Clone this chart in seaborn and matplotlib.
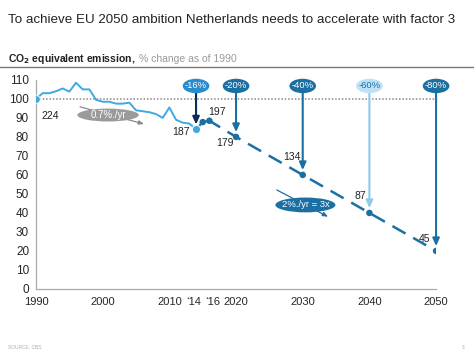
import matplotlib
matplotlib.use("Agg")
import matplotlib.pyplot as plt
import matplotlib.transforms as mtransforms
from matplotlib.patches import Ellipse
import pandas as pd
import seaborn as sns

# historic emission index (1990 = 100)
hist_years = list(range(1990, 2015))
hist_values = [100, 103, 103, 104, 105.5, 103.8, 108.5, 105, 105, 99.5,
               98.5, 98.5, 97.5, 97.5, 98, 94, 93.5, 93, 92, 90,
               95.5, 89, 87.5, 87, 84]
recent_years = [2014, 2015, 2016]
recent_values = [84, 87.8, 88.5]
target_years = [2016, 2020, 2030, 2040, 2050]
target_values = [88.5, 80, 60, 40, 20]

pill_years = [2014, 2020, 2030, 2040, 2050]
pill_labels = ["-16%", "-20%", "-40%", "-60%", "-80%"]
pill_end = [86.5, 82.5, 62.5, 42.5, 22.5]

mt_labels = ["224", "187", "197", "179", "134", "87", "45"]
mt_x = [1992.1, 2011.8, 2017.2, 2018.3, 2028.3, 2038.6, 2048.2]
mt_y = [91, 82.5, 93.3, 76.7, 69.3, 49.1, 26.2]

tick_years = [1990, 2000, 2010, 2014, 2016, 2020, 2030, 2040, 2050]
tick_labels = ["1990", "2000", "2010", "\u201814", "\u201816", "2020", "2030", "2040", "2050"]

sns.set_style("white")
plt.rcParams["font.family"] = ["Liberation Sans", "DejaVu Sans"]

light = "#3fa9e0"
mid = "#2a8ccc"
dark = "#1b6fa3"
pale = "#bfe1f5"
navy = "#0b2d5c"

fig = plt.figure(figsize=(4.74, 3.55), dpi=100)
ax = fig.add_axes([0.076, 0.186, 0.844, 0.589])

hist = pd.DataFrame({"year": hist_years, "value": hist_values})
recent = pd.DataFrame({"year": recent_years, "value": recent_values})
target = pd.DataFrame({"year": target_years, "value": target_values})

# reference line at 100
ax.plot([1990, 2050], [100, 100], color="#888888", linestyle=(0, (1, 1.2)), linewidth=1.1, zorder=1)

sns.lineplot(data=hist, x="year", y="value", ax=ax, color=light, linewidth=1.4, zorder=3)
sns.lineplot(data=recent, x="year", y="value", ax=ax, color=dark, linewidth=1.6, zorder=3)
sns.lineplot(data=target, x="year", y="value", ax=ax, color=dark, linewidth=1.8,
             linestyle=(1, (6, 3.5)), zorder=3)
sns.scatterplot(data=target.iloc[1:], x="year", y="value", ax=ax, color=dark, s=22,
                edgecolor="none", zorder=4)
sns.scatterplot(data=recent.iloc[1:], x="year", y="value", ax=ax, color=dark, s=22,
                edgecolor="none", zorder=4)
ax.scatter([1990], [100], color=light, s=30, edgecolor="white", linewidth=0.6, zorder=4)
ax.scatter([2014], [84], color=light, s=36, edgecolor="white", linewidth=0.8, zorder=5)

# pills with arrows
pill_face = [mid, dark, dark, pale, dark]
pill_text = ["white", "white", "white", dark, "white"]
arrow_col = [navy, dark, dark, "#8ccbec", dark]
for yr, lab, end, fc, tc, ac in zip(pill_years, pill_labels, pill_end, pill_face, pill_text, arrow_col):
    ax.add_patch(Ellipse((yr, 106.8), 4.0, 7.6, facecolor=fc, edgecolor="none",
                         clip_on=False, zorder=6))
    ax.text(yr, 106.8, lab, ha="center", va="center", color=tc, fontsize=6.8, zorder=7)
    ax.annotate("", xy=(yr, end), xytext=(yr, 103.2),
                arrowprops=dict(arrowstyle="-|>,head_length=0.45,head_width=0.2",
                                color=ac, linewidth=1.5, shrinkA=0, shrinkB=0), zorder=5)

# rate ellipses
ax.annotate("", xy=(2006.2, 86.8), xytext=(1996.6, 95.8),
            arrowprops=dict(arrowstyle="-|>,head_length=0.3,head_width=0.12",
                            color="#8a8a8a", linewidth=0.9, shrinkA=0, shrinkB=0), zorder=5)
ax.add_patch(Ellipse((2000.8, 91.5), 9.2, 6.8, facecolor="#9a9a9a", edgecolor="none", zorder=6))
ax.text(2000.8, 91.5, "0.7%./yr", ha="center", va="center", color="white", fontsize=7, zorder=7)

ax.annotate("", xy=(2033.8, 38), xytext=(2026.1, 52.1),
            arrowprops=dict(arrowstyle="-|>,head_length=0.3,head_width=0.12",
                            color=dark, linewidth=0.9, shrinkA=0, shrinkB=0), zorder=5)
ax.add_patch(Ellipse((2030.4, 44.2), 9.0, 7.8, facecolor=dark, edgecolor="none", zorder=6))
ax.text(2030.4, 44.2, "2%./yr = 3x", ha="center", va="center", color="white", fontsize=6.8, zorder=7)

for lab, x, y in zip(mt_labels, mt_x, mt_y):
    ax.text(x, y, lab, ha="center", va="center", fontsize=7.5, color="#222222", zorder=7)

ax.set_xlim(1990, 2050)
ax.set_ylim(0, 110)
ax.set_yticks(range(0, 111, 10))
ax.set_xticks(tick_years)
ax.set_xticklabels(tick_labels)
ax.set_xlabel("")
ax.set_ylabel("")
ax.tick_params(axis="y", length=3, width=0.8, color="#aaaaaa", pad=2, labelsize=8.5)
ax.tick_params(axis="x", length=0, pad=6, labelsize=8)
# nudge the two short year labels apart
xt = ax.get_xticklabels()
xt[3].set_transform(xt[3].get_transform() + mtransforms.ScaledTranslation(-1.5 / 72, 0, fig.dpi_scale_trans))
xt[4].set_transform(xt[4].get_transform() + mtransforms.ScaledTranslation(2.5 / 72, 0, fig.dpi_scale_trans))
for s in ["top", "right"]:
    ax.spines[s].set_visible(False)
for s in ["left", "bottom"]:
    ax.spines[s].set_color("#aaaaaa")
    ax.spines[s].set_linewidth(0.9)

fig.text(0.017, 0.945, "To achieve EU 2050 ambition Netherlands needs to accelerate with factor 3",
         fontsize=9.6, color="#222222", va="center")
fig.text(0.017, 0.835, r"CO$_\mathbf{2}$ equivalent emission,", fontsize=7.5, fontweight="bold",
         color="#222222", va="center")
fig.text(0.293, 0.835, "% change as of 1990", fontsize=7.5, color="#9a9a9a", va="center")
fig.add_artist(plt.Line2D([0, 1], [0.812, 0.812], color="#777777", linewidth=1.0))
fig.text(0.017, 0.022, "SOURCE: CBS", fontsize=3.5, color="#aaaaaa", va="center")
fig.text(0.975, 0.022, "3", fontsize=3.5, color="#aaaaaa", va="center")

fig.savefig("out.png", dpi=100)
